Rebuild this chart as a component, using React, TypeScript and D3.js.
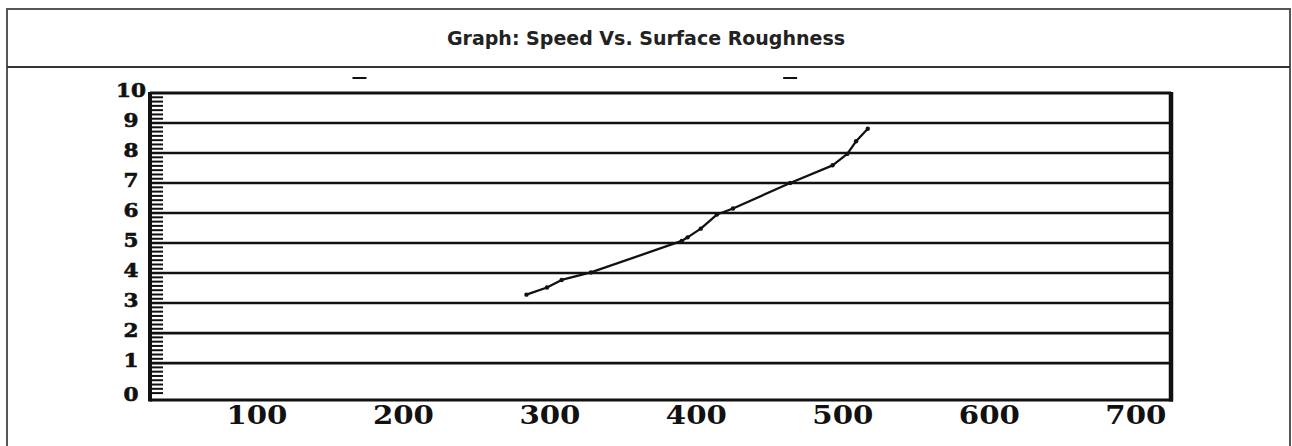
import React from "react";
import * as d3 from "d3";

// ---- data ----
const title = "Graph: Speed Vs. Surface Roughness";
const xTicks = [100, 200, 300, 400, 500, 600, 700];
const yTicks = [0, 1, 2, 3, 4, 5, 6, 7, 8, 9, 10];
const speed = [284, 298, 308, 328, 390, 394, 403, 414, 425, 464, 493, 503, 509, 517];
const roughness = [3.28, 3.52, 3.77, 4.02, 5.07, 5.19, 5.48, 5.95, 6.15, 7.0, 7.59, 7.97, 8.39, 8.81];
const topDashes = [170, 464];

const W = 1292;
const H = 446;
const plot = { left: 150, right: 1171, top: 93, bottom: 400 };

export default function App() {
  const x = d3.scaleLinear().domain([27, 724]).range([plot.left, plot.right]);
  const y = d3.scaleLinear().domain([-0.23, 10]).range([plot.bottom, plot.top]);
  const pts = speed.map((s, i) => [s, roughness[i]] as [number, number]);
  const line = d3
    .line<[number, number]>()
    .x((d) => x(d[0]))
    .y((d) => y(d[1]))
    .curve(d3.curveLinear);
  const minor = d3.range(0, 10.01, 1 / 7);
  const serif = "'DejaVu Serif', 'Liberation Serif', serif";

  return (
    <svg
      width={W}
      height={H}
      style={{ position: "absolute", left: 0, top: 0, display: "block", background: "#fff" }}
    >
      {/* outer box */}
      <rect x={7} y={9} width={1283} height={450} fill="none" stroke="#555" strokeWidth={2} />
      <line x1={7} x2={1290} y1={67} y2={67} stroke="#333" strokeWidth={2} />
      <text
        x={W / 2}
        y={38}
        textAnchor="middle"
        dominantBaseline="central"
        fontFamily="'DejaVu Sans', Verdana, sans-serif"
        fontWeight="bold"
        fontSize={19}
        fill="#222"
      >
        {title}
      </text>

      {/* small marks above plot */}
      {topDashes.map((d, i) => (
        <line key={i} x1={x(d) - 7} x2={x(d) + 7} y1={plot.top - 15} y2={plot.top - 15} stroke="#111" strokeWidth={2} />
      ))}

      {/* gridlines */}
      {yTicks
        .filter((t) => t > 0 && t < 10)
        .map((t) => (
          <line key={t} x1={plot.left} x2={plot.right} y1={y(t)} y2={y(t)} stroke="#111" strokeWidth={2.6} />
        ))}

      {/* minor ticks */}
      {minor.map((m, i) => (
        <line
          key={i}
          x1={plot.left}
          x2={plot.left + 13}
          y1={y(m)}
          y2={y(m)}
          stroke="#111"
          strokeWidth={2}
        />
      ))}

      {/* frame */}
      <line x1={plot.left} x2={plot.right} y1={y(10)} y2={y(10)} stroke="#111" strokeWidth={2.8} />
      <line x1={plot.left} x2={plot.right + 2} y1={plot.bottom} y2={plot.bottom} stroke="#111" strokeWidth={3} />
      <line x1={plot.left} x2={plot.left} y1={y(10) - 1} y2={plot.bottom + 1.5} stroke="#111" strokeWidth={4} />
      <line x1={plot.right} x2={plot.right} y1={y(10) - 1} y2={plot.bottom + 1.5} stroke="#111" strokeWidth={4.5} />

      {/* y labels */}
      {yTicks.map((t) => (
        <text
          key={t}
          x={131}
          y={t === 0 ? plot.bottom - 6 : y(t) - 3}
          textAnchor="middle"
          dominantBaseline="central"
          fontFamily={serif}
          fontWeight="900"
          fontSize={19}
          textLength={String(t).length * 15}
          lengthAdjust="spacingAndGlyphs"
          fill="#111"
          stroke="#111"
          strokeWidth={0.6}
        >
          {t}
        </text>
      ))}

      {/* x labels */}
      {xTicks.map((t) => (
        <text
          key={t}
          x={x(t)}
          y={415}
          textAnchor="middle"
          dominantBaseline="central"
          fontFamily={serif}
          fontWeight="bold"
          fontSize={26}
          textLength={61}
          lengthAdjust="spacingAndGlyphs"
          fill="#111"
        >
          {t}
        </text>
      ))}

      {/* data line */}
      <path d={line(pts) || ""} fill="none" stroke="#111" strokeWidth={2.3} strokeLinejoin="round" />
      {pts.map((p, i) => (
        <circle key={i} cx={x(p[0])} cy={y(p[1])} r={2.2} fill="#111" />
      ))}
    </svg>
  );
}
